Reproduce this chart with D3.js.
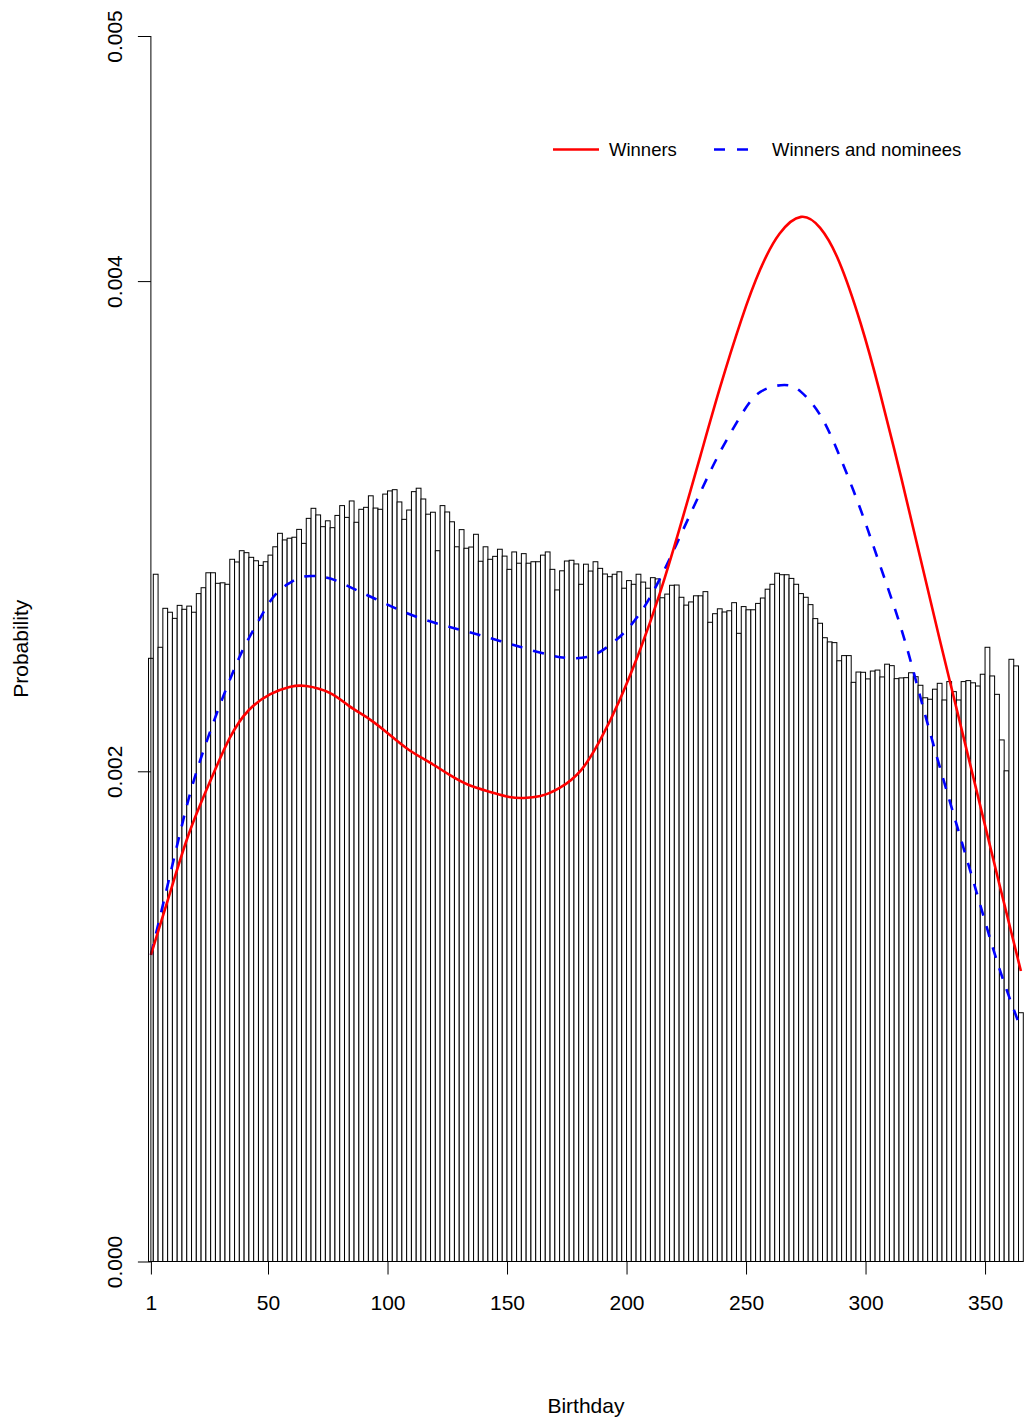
<!DOCTYPE html>
<html>
<head>
<meta charset="utf-8">
<script src="https://cdn.jsdelivr.net/npm/d3@7"></script>
<style>
  html, body { margin: 0; padding: 0; background: #fff; }
  svg { display: block; }
  text { font-family: "Liberation Sans", Arial, Helvetica, sans-serif; fill: #000; }
</style>
</head>
<body>
<svg id="chart" width="1024" height="1423"></svg>
<script>
// ---------------- data ----------------
// histogram: 2-day bins from day 0 to day 366
const binEdges = d3.range(0, 367, 2);
const density = [
  0.002461, 0.002804, 0.002506, 0.002665, 0.002649, 0.002624, 0.002677, 0.002661, 0.002674, 0.002649,
  0.002725, 0.002749, 0.002810, 0.002810, 0.002767, 0.002769, 0.002763, 0.002865, 0.002854, 0.002900,
  0.002892, 0.002873, 0.002859, 0.002840, 0.002855, 0.002882, 0.002916, 0.002971, 0.002944, 0.002951,
  0.002955, 0.002987, 0.002930, 0.003032, 0.003073, 0.003046, 0.002998, 0.003022, 0.002994, 0.003044,
  0.003084, 0.003036, 0.003103, 0.003016, 0.003069, 0.003077, 0.003124, 0.003074, 0.003069, 0.003131,
  0.003144, 0.003149, 0.003099, 0.003028, 0.003066, 0.003141, 0.003155, 0.003111, 0.003049, 0.003057,
  0.002900, 0.003084, 0.003058, 0.003018, 0.002916, 0.002986, 0.002910, 0.002915, 0.002967, 0.002857,
  0.002916, 0.002865, 0.002877, 0.002906, 0.002878, 0.002824, 0.002895, 0.002849, 0.002888, 0.002849,
  0.002855, 0.002855, 0.002882, 0.002895, 0.002824, 0.002740, 0.002818, 0.002858, 0.002861, 0.002846,
  0.002763, 0.002845, 0.002817, 0.002855, 0.002828, 0.002805, 0.002794, 0.002804, 0.002814, 0.002747,
  0.002778, 0.002763, 0.002804, 0.002772, 0.002747, 0.002790, 0.002785, 0.002708, 0.002723, 0.002759,
  0.002760, 0.002710, 0.002678, 0.002691, 0.002716, 0.002716, 0.002733, 0.002608, 0.002643, 0.002663,
  0.002650, 0.002655, 0.002688, 0.002563, 0.002672, 0.002659, 0.002659, 0.002685, 0.002707, 0.002743,
  0.002763, 0.002808, 0.002802, 0.002802, 0.002787, 0.002763, 0.002725, 0.002710, 0.002680, 0.002623,
  0.002604, 0.002545, 0.002528, 0.002525, 0.002451, 0.002472, 0.002472, 0.002363, 0.002405, 0.002404,
  0.002377, 0.002409, 0.002413, 0.002385, 0.002437, 0.002431, 0.002378, 0.002381, 0.002382, 0.002402,
  0.002386, 0.002351, 0.002300, 0.002294, 0.002335, 0.002359, 0.002291, 0.002366, 0.002325, 0.002291,
  0.002366, 0.002370, 0.002361, 0.002348, 0.002396, 0.002506, 0.002389, 0.002314, 0.002128, 0.002002,
  0.002457, 0.002430, 0.001015
];

// density curve: Winners (red, solid)
const winnersDay  = [1, 9, 17, 26, 34, 42, 51, 59, 66, 76, 84, 93, 101, 109, 118, 126, 134, 143, 151, 157,
                     164, 172, 181, 189, 197, 206, 214, 222, 231, 239, 248, 256, 264, 273, 281, 289, 298, 306,
                     315, 323, 331, 340, 348, 356, 365];
const winnersProb = [0.001251, 0.001504, 0.001748, 0.001964, 0.002136, 0.002250, 0.002315, 0.002344, 0.002348, 0.002319,
                     0.002266, 0.002209, 0.002148, 0.002087, 0.002034, 0.001985, 0.001944, 0.001916, 0.001895, 0.001891,
                     0.001899, 0.001932, 0.002005, 0.002128, 0.002288, 0.002504, 0.002728, 0.002984, 0.003290, 0.003562,
                     0.003841, 0.004049, 0.004193, 0.004262, 0.004217, 0.004078, 0.003826, 0.003546, 0.003195, 0.002867,
                     0.002539, 0.002179, 0.001859, 0.001539, 0.001185];

// density curve: Winners and nominees (blue, dashed)
const nomineesDay  = [1, 7, 13, 19, 26, 31, 36, 41, 47, 51, 55, 59, 63, 68, 73, 78, 86, 95, 105, 116,
                      126, 137, 147, 157, 168, 176, 185, 193, 200, 206, 211, 217, 222, 231, 239, 248, 256, 266,
                      273, 281, 289, 298, 306, 315, 323, 331, 340, 348, 356, 365];
const nomineesProb = [0.001251, 0.001495, 0.001740, 0.001964, 0.002168, 0.002299, 0.002420, 0.002525, 0.002630, 0.002695,
                      0.002740, 0.002768, 0.002789, 0.002797, 0.002793, 0.002780, 0.002744, 0.002703, 0.002658, 0.002617,
                      0.002589, 0.002560, 0.002532, 0.002503, 0.002474, 0.002462, 0.002470, 0.002515, 0.002576, 0.002650,
                      0.002730, 0.002845, 0.002950, 0.003140, 0.003300, 0.003454, 0.003548, 0.003576, 0.003548, 0.003454,
                      0.003290, 0.003066, 0.002842, 0.002580, 0.002300, 0.002020, 0.001720, 0.001455, 0.001195, 0.000950];

const xTicks = [1, 50, 100, 150, 200, 250, 300, 350];
const yTicks = [0, 0.002, 0.004, 0.005];
const yTickLabels = ["0.000", "0.002", "0.004", "0.005"];
const legendLabels = ["Winners", "Winners and nominees"];
const xTitle = "Birthday";
const yTitle = "Probability";

// ---------------- drawing ----------------
const svg = d3.select("#chart");
svg.append("rect").attr("width", 1024).attr("height", 1423).attr("fill", "#fff");

const x = d3.scaleLinear().domain([1, 365]).range([150.9, 1020.9]);
const y = d3.scaleLinear().domain([0, 0.005]).range([1261.5, 36]);

const bins = density.map((v, i) => ({ x0: binEdges[i], x1: binEdges[i + 1], v }));

svg.append("g")
  .selectAll("rect")
  .data(bins)
  .join("rect")
  .attr("x", d => x(d.x0))
  .attr("y", d => y(d.v))
  .attr("width", d => x(d.x1) - x(d.x0))
  .attr("height", d => y(0) - y(d.v))
  .attr("fill", "#fff")
  .attr("stroke", "#000")
  .attr("stroke-width", 1);

// curves
const lineGen = d3.line().x(d => x(d[0])).y(d => y(d[1])).curve(d3.curveNatural);
svg.append("path")
  .datum(nomineesDay.map((d, i) => [d, nomineesProb[i]]))
  .attr("d", lineGen)
  .attr("fill", "none")
  .attr("stroke", "#0000FF")
  .attr("stroke-width", 2.6)
  .attr("stroke-dasharray", "11,11");
svg.append("path")
  .datum(winnersDay.map((d, i) => [d, winnersProb[i]]))
  .attr("d", lineGen)
  .attr("fill", "none")
  .attr("stroke", "#FF0000")
  .attr("stroke-width", 2.6);

// y axis
const yAxis = d3.axisLeft(y).tickValues(yTicks).tickSize(13).tickFormat((d, i) => yTickLabels[i]);
const gy = svg.append("g").attr("transform", `translate(${x(1)},0)`).call(yAxis);
gy.select(".domain").attr("d", `M0,${y(0)}V${y(0.005)}`).attr("stroke", "#000");
gy.selectAll(".tick line").attr("stroke", "#000");
gy.selectAll(".tick text")
  .attr("font-size", 21)
  .attr("x", 0).attr("y", 0).attr("dy", null)
  .attr("text-anchor", "middle")
  .attr("transform", "translate(-29,0) rotate(-90)");

// x axis
const xAxis = d3.axisBottom(x).tickValues(xTicks).tickSize(13).tickFormat(d3.format("d"));
const gx = svg.append("g").attr("transform", `translate(0,${y(0)})`).call(xAxis);
gx.select(".domain").attr("d", `M${x(1)},0H${x(350)}`).attr("stroke", "#000");
gx.selectAll(".tick line").attr("stroke", "#000");
gx.selectAll(".tick text").attr("font-size", 21).attr("y", 48).attr("dy", null);

// axis titles
svg.append("text").attr("x", x(183)).attr("y", 1413).attr("text-anchor", "middle")
  .attr("font-size", 21).text(xTitle);
svg.append("text").attr("transform", `translate(28,${y(0.0025)}) rotate(-90)`)
  .attr("text-anchor", "middle").attr("font-size", 21).text(yTitle);

// legend
const lg = svg.append("g");
lg.append("line").attr("x1", 553).attr("x2", 599).attr("y1", 149.5).attr("y2", 149.5)
  .attr("stroke", "#FF0000").attr("stroke-width", 2.6);
lg.append("text").attr("x", 609).attr("y", 156).attr("font-size", 18.5).text(legendLabels[0]);
lg.append("line").attr("x1", 714).attr("x2", 748).attr("y1", 149.5).attr("y2", 149.5)
  .attr("stroke", "#0000FF").attr("stroke-width", 2.6).attr("stroke-dasharray", "11,12");
lg.append("text").attr("x", 772).attr("y", 156).attr("font-size", 18.5).text(legendLabels[1]);
</script>
</body>
</html>
